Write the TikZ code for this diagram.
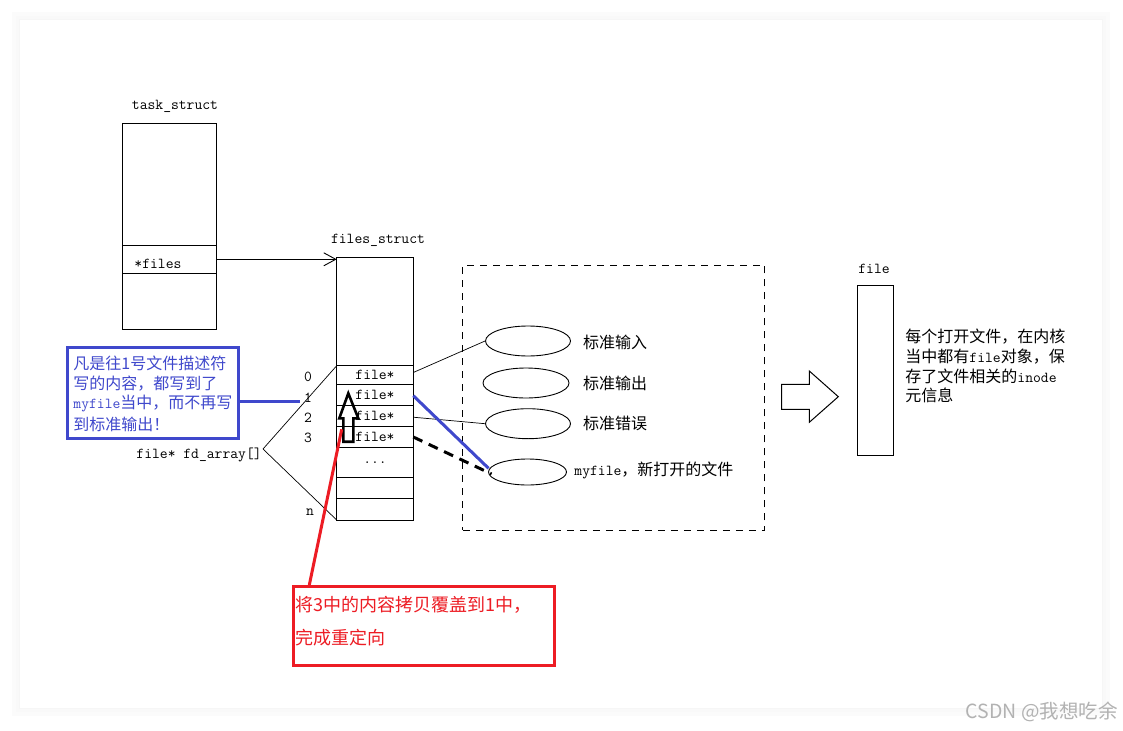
\documentclass[tikz,border=0pt]{standalone}
\usepackage{fontspec}
\newfontfamily\cjk{Noto Sans CJK SC}
\usetikzlibrary{shapes.geometric,arrows.meta,calc}
\definecolor{pblue}{HTML}{3F48CC}
\definecolor{pred}{HTML}{ED1C24}
\newcommand\mono[1]{{\ttfamily\fontsize{15.2}{18}\selectfont #1}}
\newcommand\zh[1]{{\cjk\fontsize{16}{20}\selectfont #1}}
\begin{document}
\begin{tikzpicture}[x=1pt,y=-1pt, line width=0.9pt,
  cell/.style={draw, rectangle, inner sep=0pt, outer sep=0pt, minimum width=76.6pt},
  tcell/.style={draw, rectangle, inner sep=0pt, outer sep=0pt, minimum width=94pt},
  oval/.style={draw, ellipse, inner sep=0pt, minimum width=85pt, minimum height=30pt},
  lbl/.style={inner sep=0pt, anchor=west},
  ctr/.style={inner sep=0pt},
  thick3/.style={line width=3pt}]
% background and card
\useasboundingbox (0,0) rectangle (1123,730);
\fill[white] (0,0) rectangle (1123,730);
\fill[black!1.5] (12,12) rectangle (1110,716);
\fill[black!2.5] (16,16) rectangle (1106,712);
\fill[black!3.5] (19,19) rectangle (1103,709);
\fill[white] (20,20) rectangle (1102,708);

% task_struct
\node[ctr] (tslabel) at (175,106) {\mono{task\_struct}};
\node[tcell, minimum height=122pt, anchor=north west] (ts1) at (122.3,123.3) {};
\node[tcell, minimum height=28pt, anchor=north] (ts2) at (ts1.south) {};
\node[tcell, minimum height=55.7pt, anchor=north] (ts3) at (ts2.south) {};
\node[lbl] (tsfiles) at (134,264) {\mono{*files}};

% files_struct
\node[ctr] (fslabel) at (378,240) {\mono{files\_struct}};
\node[cell, minimum height=108pt, anchor=north west] (fs) at (336.7,257.7) {};
\node[cell, minimum height=18.6pt, anchor=north] (r0) at (fs.south) {\mono{file*}};
\node[cell, minimum height=21.4pt, anchor=north] (r1) at (r0.south) {\mono{file*}};
\node[cell, minimum height=21pt, anchor=north] (r2) at (r1.south) {\mono{file*}};
\node[cell, minimum height=20.6pt, anchor=north] (r3) at (r2.south) {\mono{file*}};
\node[cell, minimum height=30pt, anchor=north] (r4) at (r3.south) {\mono{...}};
\node[cell, minimum height=21pt, anchor=north] (r5) at (r4.south) {};
\node[cell, minimum height=21.7pt, anchor=north] (r6) at (r5.south) {};

\draw[-{Straight Barb[length=12pt,width=13pt]}] (ts2.east) -- (ts2.east -| fs.west);

% indices
\node[ctr] (i0) at (308,377) {\mono{0}};
\node[ctr] (i1) at (308,398) {\mono{1}};
\node[ctr] (i2) at (308,418) {\mono{2}};
\node[ctr] (i3) at (308,438) {\mono{3}};
\node[ctr] (in) at (310,512) {\mono{n}};

% fd_array
\node[lbl] (fd) at (136,455) {\mono{file* fd\_array[]}};
\coordinate (fdp) at (263,449);
\draw[line width=0.7pt] (fdp) -- (r0.north west);
\draw[line width=0.7pt] (fdp) -- (r6.south west);

% dashed region
\node[draw, dash pattern=on 7pt off 6pt, minimum width=302pt, minimum height=265pt, inner sep=0pt, anchor=north west] (dbox) at (462.3,265) {};

% ellipses
\node[oval] (e1) at (528,341) {};
\node[oval, minimum width=86pt] (e2) at (526,383) {};
\node[oval] (e3) at (528,423.7) {};
\node[oval, minimum width=78pt, minimum height=26pt] (e4) at (527.5,472) {};

\node[lbl] (t1) at (582.7,342.7) {\zh{标准输入}};
\node[lbl] (t2) at (582.7,383.3) {\zh{标准输出}};
\node[lbl] (t3) at (582.7,423.3) {\zh{标准错误}};
\node[lbl] (t4) at (574,470) {\mono{myfile}\zh{，新打开的文件}};

% connectors to ellipses
\draw[line width=0.7pt] ($(r0.east)+(0,-2.5)$) -- (e1.west);
\draw[line width=0.7pt] ($(r2.east)+(0,1)$) -- (e3.west);
\draw[pblue, thick3] ($(r1.east)+(0,0.7)$) -- ($(e4.west)+(0.5,-3.7)$);
\draw[black, thick3, dash pattern=on 10pt off 7pt] (r3.east) -- ($(e4.west)+(3.5,2)$);

% hollow up arrow in files_struct
\draw[line width=2.6pt, line join=miter] (343.3,441.7) -- (343.3,418.3) -- (339.3,418.3) -- (348.3,393.3) -- (358.3,418.3) -- (353.3,418.3) -- (353.3,441.7) -- cycle;

% blue note
\node[draw=pblue, line width=3pt, minimum width=171.3pt, minimum height=90.7pt, inner sep=0pt, anchor=north west] (note) at (66,346) {};
\node[lbl, text=pblue] (n1) at (73,363) {\zh{凡是往1号文件描述符}};
\node[lbl, text=pblue] (n2) at (73,383.3) {\zh{写的内容，都写到了}};
\node[lbl, text=pblue] (n3) at (73,403.6) {\mono{myfile}\zh{当中，而不再写}};
\node[lbl, text=pblue] (n4) at (73,424) {\zh{到标准输出！}};
\coordinate (nend) at (300,401.7);
\draw[pblue, thick3] (nend -| note.east) -- (nend);

% red note
\node[draw=pred, line width=3pt, minimum width=261pt, minimum height=79pt, inner sep=0pt, anchor=north west] (rbox) at (291.7,585) {};
\node[lbl, text=pred] (rt1) at (295,605) {\cjk\fontsize{18}{22}\selectfont 将3中的内容拷贝覆盖到1中，};
\node[lbl, text=pred] (rt2) at (295,638) {\cjk\fontsize{18}{22}\selectfont 完成重定向};
\coordinate (rstart) at (341.7,429.3);
\draw[pred, thick3] (rstart) -- ($(rbox.north west)+(17.6,0)$);

% big hollow right arrow
\draw[line width=1pt] (781.7,384.3) -- (809.3,384.3) -- (809.3,371) -- (838.3,396.7) -- (809.3,422.3) -- (809.3,409.3) -- (781.7,409.3) -- cycle;

% file
\node[ctr] (flabel) at (874,269) {\mono{file}};
\node[draw, minimum width=36.6pt, minimum height=170pt, inner sep=0pt, anchor=north west] (fbox) at (856.7,285) {};
\node[lbl] (f1) at (905,336.7) {\zh{每个打开文件，在内核}};
\node[lbl] (f2) at (905,356.4) {\zh{当中都有}\mono{file}\zh{对象，保}};
\node[lbl] (f3) at (905,376) {\zh{存了文件相关的}\mono{inode}};
\node[lbl] (f4) at (905,395.5) {\zh{元信息}};

% watermark
\node[inner sep=0pt, anchor=east, text=black!30] (wm) at (1118,712) {\cjk\fontsize{19.5}{22}\selectfont CSDN @我想吃余};
\end{tikzpicture}
\end{document}
